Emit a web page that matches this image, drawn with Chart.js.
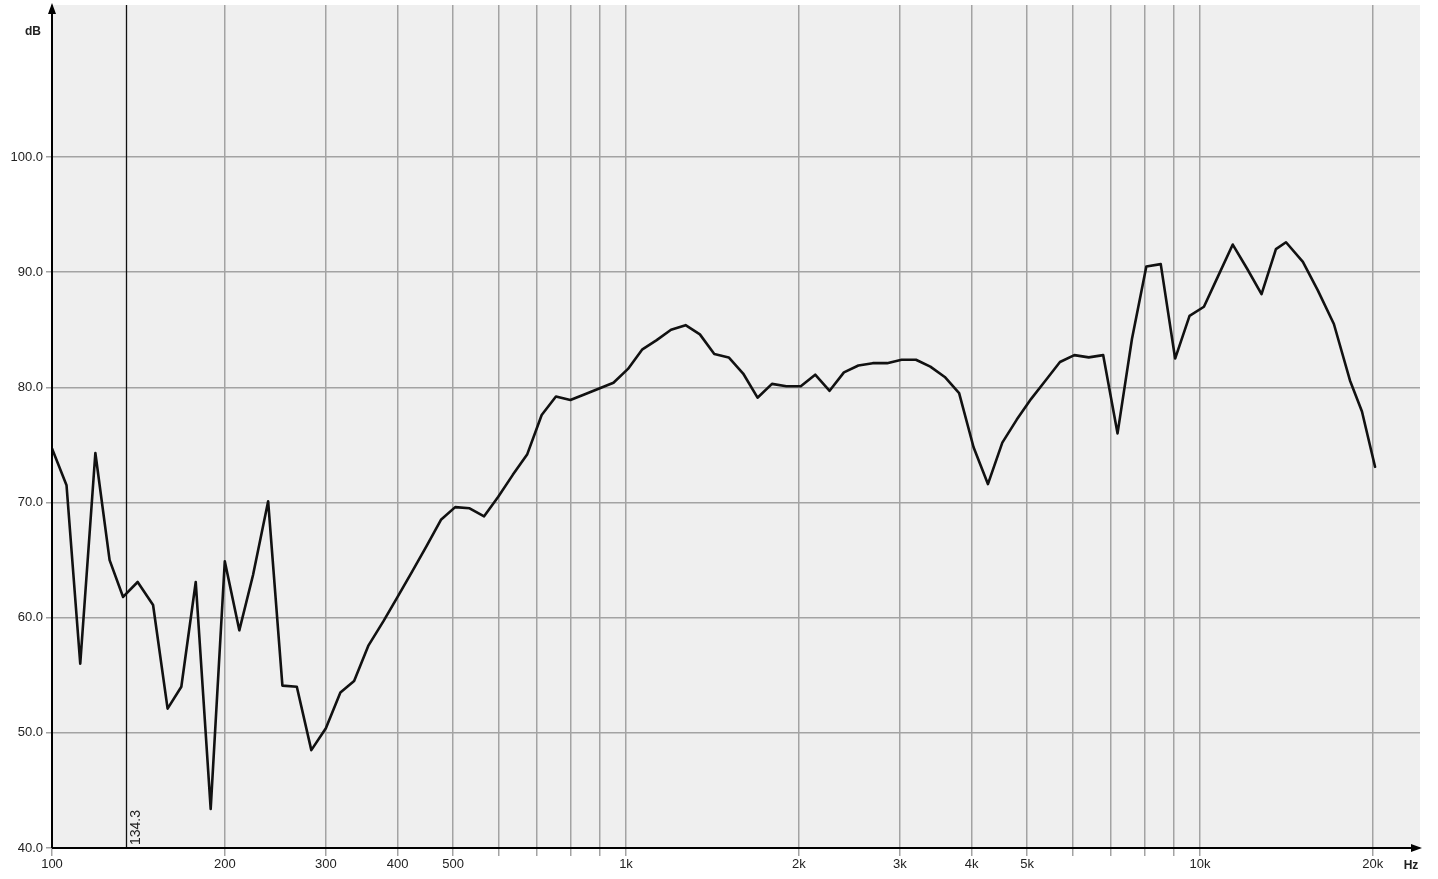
<!DOCTYPE html>
<html>
<head>
<meta charset="utf-8">
<script src="https://cdn.jsdelivr.net/npm/chart.js@4/dist/chart.umd.min.js"></script>
<style>
  html, body { margin: 0; padding: 0; background: #fff; }
  #wrap { width: 1438px; height: 879px; }
</style>
</head>
<body>
<div id="wrap"><canvas id="grafica" width="1438" height="879"></canvas></div>
<script>
// frequency points (Hz)
const freqs = [100, 106, 112, 119, 126, 133, 141, 150, 159, 168, 178, 189,
  200, 212, 224, 238, 252, 267, 283, 300, 318, 336, 356, 378,
  400, 424, 449, 476, 504, 534, 566, 599, 635, 673, 713, 755,
  800, 848, 898, 951, 1008, 1068, 1131, 1198, 1270, 1345, 1425, 1510,
  1600, 1695, 1796, 1903, 2016, 2136, 2263, 2397, 2540, 2691, 2851, 3020,
  3200, 3390, 3592, 3805, 4032, 4271, 4525, 4795, 5080, 5382, 5702, 6041,
  6400, 6781, 7184, 7611, 8063, 8543, 9051, 9589, 10159, 10763, 11404, 12082,
  12800, 13561, 14120, 15110, 16050, 17110, 18250, 19150, 20180];

// level (dB)
const levels = [74.7, 71.5, 56.0, 74.3, 65.0, 61.8, 63.1, 61.1, 52.1, 54.0, 63.1, 43.4,
  64.9, 58.9, 63.7, 70.1, 54.1, 54.0, 48.5, 50.4, 53.5, 54.5, 57.6, 59.7,
  61.8, 64.0, 66.2, 68.5, 69.6, 69.5, 68.8, 70.5, 72.4, 74.2, 77.6, 79.2,
  78.9, 79.4, 79.9, 80.4, 81.6, 83.3, 84.1, 85.0, 85.4, 84.6, 82.9, 82.6,
  81.2, 79.1, 80.3, 80.1, 80.1, 81.1, 79.7, 81.3, 81.9, 82.1, 82.1, 82.4,
  82.4, 81.8, 80.9, 79.5, 74.8, 71.6, 75.2, 77.2, 79.0, 80.6, 82.2, 82.8,
  82.6, 82.8, 76.0, 84.2, 90.5, 90.7, 82.5, 86.2, 87.0, 89.7, 92.4, 90.3,
  88.1, 92.0, 92.6, 90.9, 88.4, 85.5, 80.6, 77.9, 73.1];

const xGrid = [100, 200, 300, 400, 500, 600, 700, 800, 900,
  1000, 2000, 3000, 4000, 5000, 6000, 7000, 8000, 9000, 10000, 20000];
const xLabels = {100: '100', 200: '200', 300: '300', 400: '400', 500: '500',
  1000: '1k', 2000: '2k', 3000: '3k', 4000: '4k', 5000: '5k', 10000: '10k', 20000: '20k'};
const yTicks = [40, 50, 60, 70, 80, 90, 100];
const markerHz = 134.3;

// background, axes with arrows, marker line and unit labels
const decor = {
    id: 'decor',
    beforeDraw(chart) {
        const a = chart.chartArea, c = chart.ctx;
        c.save();
        c.fillStyle = '#efefef';
        c.fillRect(a.left, a.top, a.right - a.left, a.bottom - a.top);
        c.restore();
    },
    afterDraw(chart) {
        const a = chart.chartArea, c = chart.ctx;
        const xs = chart.scales.x;
        c.save();
        // marker line
        const mx = Math.round(xs.getPixelForValue(markerHz)) + 0.5;
        c.strokeStyle = '#111';
        c.lineWidth = 1.3;
        c.beginPath();
        c.moveTo(mx, a.top);
        c.lineTo(mx, a.bottom);
        c.stroke();
        c.translate(mx + 3, a.bottom - 3);
        c.rotate(-Math.PI / 2);
        c.fillStyle = '#222';
        c.font = '14px "Liberation Sans", Arial, sans-serif';
        c.textAlign = 'left';
        c.textBaseline = 'top';
        c.fillText(markerHz.toFixed(1), 0, 0);
        c.setTransform(1, 0, 0, 1, 0, 0);

        // axes
        c.strokeStyle = '#000';
        c.fillStyle = '#000';
        c.lineWidth = 2;
        c.beginPath();
        c.moveTo(a.left, a.bottom);
        c.lineTo(a.left, a.top + 4);
        c.moveTo(a.left, a.bottom);
        c.lineTo(a.right - 4, a.bottom);
        c.stroke();
        c.beginPath();
        c.moveTo(a.left, a.top - 2);
        c.lineTo(a.left - 4, a.top + 9);
        c.lineTo(a.left + 4, a.top + 9);
        c.closePath();
        c.fill();
        c.beginPath();
        c.moveTo(a.right + 2, a.bottom);
        c.lineTo(a.right - 9, a.bottom - 4);
        c.lineTo(a.right - 9, a.bottom + 4);
        c.closePath();
        c.fill();

        // units
        c.font = 'bold 12px "Liberation Sans", Arial, sans-serif';
        c.textAlign = 'center';
        c.textBaseline = 'middle';
        c.fillStyle = '#222';
        c.fillText('dB', 33, 32);
        c.fillText('Hz', 1411, 866);
        c.restore();
    }
};

new Chart(document.getElementById('grafica').getContext('2d'), {
    type: 'line',
    data: {
        datasets: [{
            data: freqs.map((f, i) => ({ x: f, y: levels[i] })),
            borderColor: '#111',
            borderWidth: 2.6,
            borderJoinStyle: 'round',
            borderCapStyle: 'round',
            pointRadius: 0,
            tension: 0,
            fill: false
        }]
    },
    options: {
        responsive: false,
        animation: false,
        layout: { padding: { left: 0, top: 5, right: 18, bottom: 0 } },
        plugins: { legend: { display: false }, tooltip: { enabled: false } },
        scales: {
            x: {
                type: 'logarithmic',
                min: 100,
                max: 24170,
                afterBuildTicks: s => { s.ticks = xGrid.map(v => ({ value: v })); },
                afterFit: s => { s.height = 31; },
                border: { display: false },
                grid: { color: '#a3a3a3', lineWidth: 1.5, tickLength: 8 },
                ticks: {
                    autoSkip: false,
                    maxRotation: 0,
                    padding: 1,
                    color: '#222',
                    font: { family: '"Liberation Sans", Arial, sans-serif', size: 13 },
                    callback: v => xLabels[v] || ''
                }
            },
            y: {
                min: 40,
                max: 113.2,
                afterBuildTicks: s => { s.ticks = yTicks.map(v => ({ value: v })); },
                afterFit: s => { s.width = 52; s.paddingTop = 0; s.paddingBottom = 0; },
                border: { display: false },
                grid: { color: '#a3a3a3', lineWidth: 1.5, tickLength: 6 },
                ticks: {
                    padding: 3,
                    color: '#222',
                    font: { family: '"Liberation Sans", Arial, sans-serif', size: 13 },
                    callback: v => Number(v).toFixed(1)
                }
            }
        }
    },
    plugins: [decor]
});
</script>
</body>
</html>
